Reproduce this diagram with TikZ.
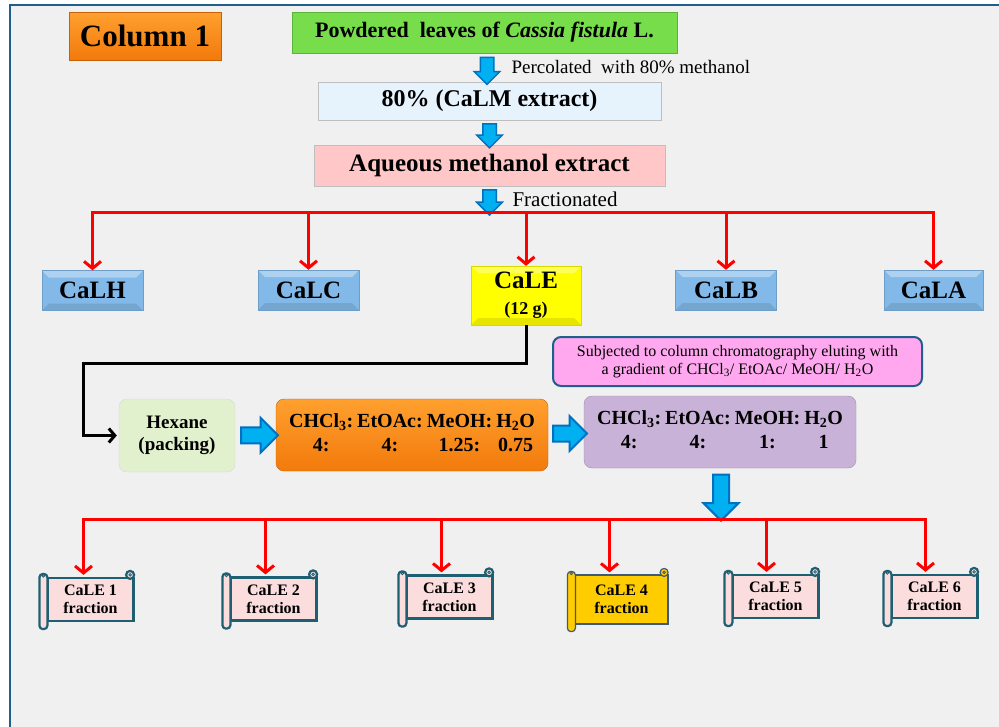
\documentclass[tikz,border=0pt]{standalone}
\usepackage{fontspec}
\setmainfont{Liberation Serif}
\usetikzlibrary{shapes.arrows,arrows.meta,calc}

\definecolor{bggray}{HTML}{F0F0F0}
\definecolor{frameblue}{HTML}{1F5F8B}
\definecolor{orangetop}{HTML}{FFA02E}
\definecolor{orangebot}{HTML}{F27A0C}
\definecolor{orangeline}{HTML}{C8600A}
\definecolor{leafgreen}{HTML}{77DD4B}
\definecolor{leafline}{HTML}{5CB33A}
\definecolor{calmblue}{HTML}{E6F2FC}
\definecolor{aqpink}{HTML}{FFC7C7}
\definecolor{fracblue}{HTML}{82B9E8}
\definecolor{caleyellow}{HTML}{FFFF00}
\definecolor{hexgreen}{HTML}{E1F0CD}
\definecolor{mixpurple}{HTML}{C9B2D7}
\definecolor{notepink}{HTML}{FFA8F0}
\definecolor{scrollpink}{HTML}{FBDDDE}
\definecolor{scrollline}{HTML}{1E6072}
\definecolor{scrollgold}{HTML}{FFCC00}
\definecolor{goldline}{HTML}{3F5A78}
\definecolor{arrowcyan}{HTML}{00B0F0}
\definecolor{arrowblue}{HTML}{0070C0}
\definecolor{treered}{HTML}{FF0000}

\newcommand\fsz[2]{\fontsize{#1}{#2}\selectfont}

\tikzset{
  plainbox/.style={inner sep=0pt, align=center, font=\bfseries},
  bevel/.style={path picture={
    \fill[white,opacity=.35] (path picture bounding box.north west) -- (path picture bounding box.north east)
      -- ([shift={(-7pt,-7pt)}]path picture bounding box.north east) -- ([shift={(7pt,-7pt)}]path picture bounding box.north west) -- cycle;
    \fill[black,opacity=.10] (path picture bounding box.south west) -- (path picture bounding box.south east)
      -- ([shift={(-7pt,7pt)}]path picture bounding box.south east) -- ([shift={(7pt,7pt)}]path picture bounding box.south west) -- cycle;
  }},
  calbox/.style={plainbox, bevel, fill=fracblue, draw=fracblue!85!black, line width=.4pt,
    minimum width=101pt, minimum height=40pt, font=\bfseries\fsz{25}{28}},
  mixbox/.style={plainbox, rounded corners=8pt, minimum width=272pt, minimum height=72pt, font=\bfseries\fsz{20}{24}},
  scroll/.style={plainbox, line width=2.2pt, font=\bfseries\fsz{16}{18}, minimum height=43pt, minimum width=86pt},
  downarrow/.style={single arrow, rotate=-90, fill=arrowcyan, draw=arrowblue, line width=1.5pt,
    inner xsep=0pt, inner ysep=6pt, single arrow head extend=6pt},
  bigarrow/.style={single arrow, fill=arrowcyan, draw=arrowblue, line width=2pt,
    inner xsep=0pt, inner ysep=7pt, single arrow head extend=9.5pt},
  redline/.style={draw=treered, line width=3pt},
  redarrow/.style={redline, -{Straight Barb[length=7pt,width=17pt]}},
  blackarrow/.style={draw=black, line width=3pt, -{Straight Barb[length=6pt,width=14pt]}},
}

\begin{document}
\begin{tikzpicture}[x=1pt,y=-1pt]
\useasboundingbox (0,0) rectangle (999,726);
\clip (0,0) rectangle (999,726);
\fill[white] (0,0) rectangle (999,726);
\filldraw[fill=bggray, draw=frameblue, line width=2pt] (10,5) rectangle (1012,740);
%
% extraction steps
\node[plainbox, minimum width=152pt, minimum height=48pt, top color=orangetop, bottom color=orangebot,
  draw=orangeline, font=\bfseries\fsz{31}{34}] (col) at (145,36) {Column 1};
\node[plainbox, minimum width=385pt, minimum height=41pt, fill=leafgreen, draw=leafline,
  font=\bfseries\fsz{22}{26}] (leaves) at (484.5,32.5) {Powdered\ \ leaves of \textit{Cassia fistula} L.};
\node[plainbox, minimum width=343pt, minimum height=38pt, fill=calmblue, draw=black!25,
  font=\bfseries\fsz{24}{28}] (calm) at (489.5,101) {80\% (CaLM extract)};
\node[plainbox, minimum width=351pt, minimum height=41pt, fill=aqpink, draw=black!25,
  font=\bfseries\fsz{25}{28}] (aqueous) at (489.5,165.5) {Aqueous methanol extract};
\coordinate (split) at (489.5,212);
%
\node[downarrow, minimum height=27pt] (d1) at ($(leaves.south)!.5!(calm.north)$) {};
\node[downarrow, minimum height=24pt] (d2) at ($(calm.south)!.5!(aqueous.north)$) {};
\node[downarrow, minimum height=25pt] (d3) at ($(aqueous.south)!.5!(split)$) {};
\node[anchor=west, font=\fsz{19}{22}] (perc) at (508,67) {Percolated\ \ with 80\% methanol};
\node[anchor=west, font=\fsz{21}{24}] (fract) at (509,199) {Fractionated};
%
% fractions
\node[calbox] (calh) at (92.5,290.5) {CaLH};
\node[calbox] (calc) at (308.5,290) {CaLC};
\node[calbox, fill=caleyellow, draw=caleyellow!85!black, minimum width=110pt, minimum height=59pt]
  (cale) at (526,295.5) {CaLE\\[-2pt]{\fsz{18}{20}(12 g)}};
\node[calbox] (calb) at (726,290) {CaLB};
\node[calbox, minimum width=99pt] (cala) at (933.5,290) {CaLA};
%
\coordinate (bus1) at (93,212);
\draw[redline, line cap=rect] (calh.north |- bus1) -- (cala.north |- bus1);
\foreach \n in {calh,calc,cale,calb,cala}
  \draw[redarrow] (\n.north |- bus1) -- (\n.north);
%
% column chromatography
\node[plainbox, rounded corners=8pt, fill=hexgreen, draw=black!15, minimum width=116pt, minimum height=73pt,
  font=\bfseries\fsz{19}{22}] (hexane) at (177,435.5) {Hexane\\(packing)};
\node[mixbox, top color=orangetop, bottom color=orangebot, draw=orangeline] (mixa) at (412,435)
  {\begin{tabular}{@{}c@{\hspace{4pt}}c@{\hspace{4pt}}c@{\hspace{4pt}}c@{}}
   CHCl\textsubscript{3}: & EtOAc: & MeOH: & H\textsubscript{2}O\\
   4: & 4: & 1.25: & 0.75
   \end{tabular}};
\node[mixbox, fill=mixpurple, draw=mixpurple!80!black] (mixb) at (720,432)
  {\begin{tabular}{@{}c@{\hspace{4pt}}c@{\hspace{4pt}}c@{\hspace{4pt}}c@{}}
   CHCl\textsubscript{3}: & EtOAc: & MeOH: & H\textsubscript{2}O\\
   4: & 4: & 1: & 1
   \end{tabular}};
\node[plainbox, font=\fsz{16}{18}, rounded corners=8pt, fill=notepink, draw=frameblue, line width=2pt,
  minimum width=369pt, minimum height=49pt] (note) at (737.5,361.5)
  {Subjected to column chromatography eluting with\\
   a gradient of CHCl\textsubscript{3}/ EtOAc/ MeOH/ H\textsubscript{2}O};
%
\coordinate (turn) at (83,363);
\draw[blackarrow, shorten >=2pt] (cale.south) |- (turn) |- (hexane.west);
\node[bigarrow, minimum height=37pt] (r1) at ($(hexane.east)!.5!(mixa.west)$) {};
\node[bigarrow, minimum height=34pt] (r2) at ($(mixa.east)!.5!(mixb.west)$) {};
\coordinate (bus2) at (722,519);
\node[bigarrow, rotate=-90, minimum height=46pt] (d4) at ($(mixb.south)!.5!(bus2)$) {};
%
% CaLE sub-fractions
\node[scroll, fill=scrollpink, draw=scrollline] (f1) at (90.5,599.5) {CaLE 1\\fraction};
\node[scroll, fill=scrollpink, draw=scrollline] (f2) at (273.5,599) {CaLE 2\\fraction};
\node[scroll, fill=scrollpink, draw=scrollline] (f3) at (449.5,597) {CaLE 3\\fraction};
\node[scroll, fill=scrollgold, draw=goldline, line width=1.2pt, minimum width=93pt, minimum height=49pt]
  (f4) at (621.5,599.5) {CaLE 4\\fraction};
\node[scroll, fill=scrollpink, draw=scrollline] (f5) at (775.5,596.5) {CaLE 5\\fraction};
\node[scroll, fill=scrollpink, draw=scrollline] (f6) at (934.5,596.5) {CaLE 6\\fraction};
\foreach \n/\fc/\dc/\lw in {f1/scrollpink/scrollline/2.2,f2/scrollpink/scrollline/2.2,f3/scrollpink/scrollline/2.2,
    f4/scrollgold/goldline/1.2,f5/scrollpink/scrollline/2.2,f6/scrollpink/scrollline/2.2}{
  \filldraw[fill=\fc, draw=\dc, line width=\lw pt, rounded corners=3.5pt]
    ([xshift=-7pt,yshift=3pt]\n.north west) rectangle ([xshift=1pt,yshift=-7pt]\n.south west);
  \filldraw[fill=\fc, draw=\dc, line width=\lw pt] ([xshift=-4.5pt,yshift=2pt]\n.north east) circle[radius=4pt];
  \draw[\dc, line width=.8pt] ([xshift=-4.5pt,yshift=2pt]\n.north east) circle[radius=1.3pt];
  \draw[\dc, line width=.8pt] ([xshift=-3pt,yshift=1pt]\n.north west) circle[radius=1.3pt];
}
%
\draw[redline, line cap=rect] ([xshift=-7pt]f1.north |- bus2) -- ([xshift=-9pt]f6.north |- bus2);
\foreach \n/\dx in {f1/-7,f2/-8,f3/-8,f4/-12,f5/-9,f6/-9}
  \draw[redarrow, shorten >=2pt] ([xshift=\dx pt]\n.north |- bus2) -- ([xshift=\dx pt]\n.north);
\end{tikzpicture}
\end{document}
